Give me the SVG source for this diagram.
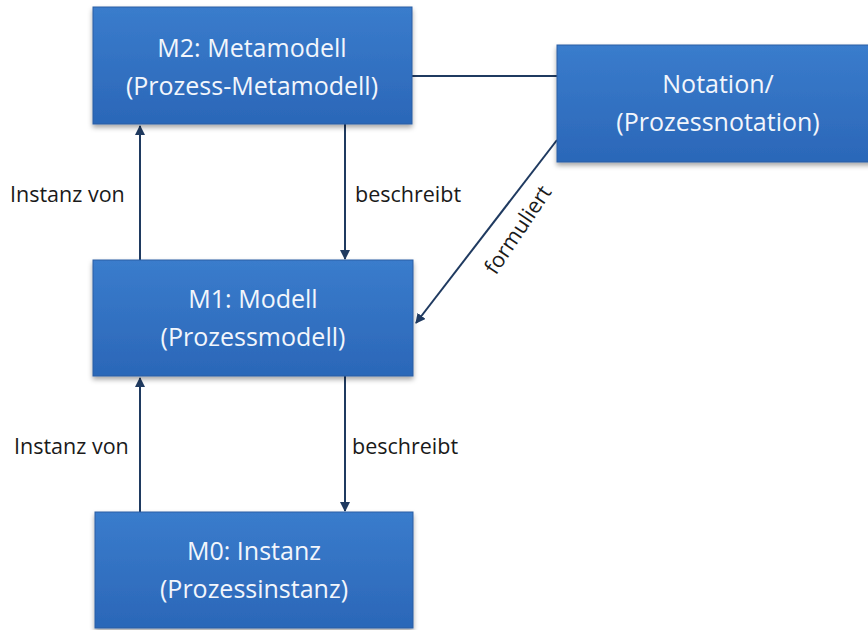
<svg xmlns="http://www.w3.org/2000/svg" width="868" height="630" viewBox="0 0 868 630">
  <style>
    .box { fill: url(#boxFill); stroke: #2a5ea3; stroke-width: 1; filter: url(#shadow); }
    .boxText { font-family: "Open Sans", "Liberation Sans", sans-serif; font-size: 25px; fill: #f2f6fc; text-anchor: middle; }
    .label { font-family: "Open Sans", "Liberation Sans", sans-serif; font-size: 21.5px; fill: #1a1a1a; }
    .conn { stroke: #1f3a60; stroke-width: 2; fill: none; }
  </style>
  <defs>
    <linearGradient id="boxFill" x1="0" y1="0" x2="0" y2="1">
      <stop offset="0" stop-color="#3a7ccc"/>
      <stop offset="1" stop-color="#2b67b8"/>
    </linearGradient>
    <filter id="shadow" x="-10%" y="-10%" width="120%" height="130%">
      <feDropShadow dx="0" dy="3" stdDeviation="2.5" flood-color="#000" flood-opacity="0.35"/>
    </filter>
    <marker id="arrow" markerWidth="10" markerHeight="10" refX="9" refY="5" orient="auto" markerUnits="userSpaceOnUse">
      <path d="M0,0 L10,5 L0,10 Z" fill="#1f3a60"/>
    </marker>
  </defs>

  <rect width="868" height="630" fill="#ffffff"/>

  <g id="connectors">
    <line class="conn" x1="412" y1="76" x2="557" y2="76"/>
    <line class="conn" x1="140" y1="260" x2="140" y2="126" marker-end="url(#arrow)"/>
    <line class="conn" x1="345" y1="124" x2="345" y2="259" marker-end="url(#arrow)"/>
    <line class="conn" x1="557" y1="140" x2="416" y2="323" marker-end="url(#arrow)"/>
    <line class="conn" x1="140" y1="512" x2="140" y2="378" marker-end="url(#arrow)"/>
    <line class="conn" x1="345" y1="376" x2="345" y2="511" marker-end="url(#arrow)"/>
    <text class="label" x="10" y="202">Instanz von</text>
    <text class="label" x="355" y="202">beschreibt</text>
    <text class="label" x="14" y="454">Instanz von</text>
    <text class="label" x="352" y="454">beschreibt</text>
    <text class="label" transform="translate(524,234) rotate(-56)" text-anchor="middle">formuliert</text>
  </g>

  <g id="m2">
    <rect class="box" x="93" y="7" width="319" height="117"/>
    <text class="boxText" x="252" y="57">M2: Metamodell</text>
    <text class="boxText" x="252" y="95">(Prozess-Metamodell)</text>
  </g>

  <g id="notation">
    <rect class="box" x="557" y="45" width="320" height="117"/>
    <text class="boxText" x="718" y="93">Notation/</text>
    <text class="boxText" x="718" y="131">(Prozessnotation)</text>
  </g>

  <g id="m1">
    <rect class="box" x="93" y="260" width="320" height="116"/>
    <text class="boxText" x="253" y="308">M1: Modell</text>
    <text class="boxText" x="253" y="346">(Prozessmodell)</text>
  </g>

  <g id="m0">
    <rect class="box" x="95" y="512" width="318" height="116"/>
    <text class="boxText" x="254" y="560">M0: Instanz</text>
    <text class="boxText" x="254" y="598">(Prozessinstanz)</text>
  </g>
</svg>
